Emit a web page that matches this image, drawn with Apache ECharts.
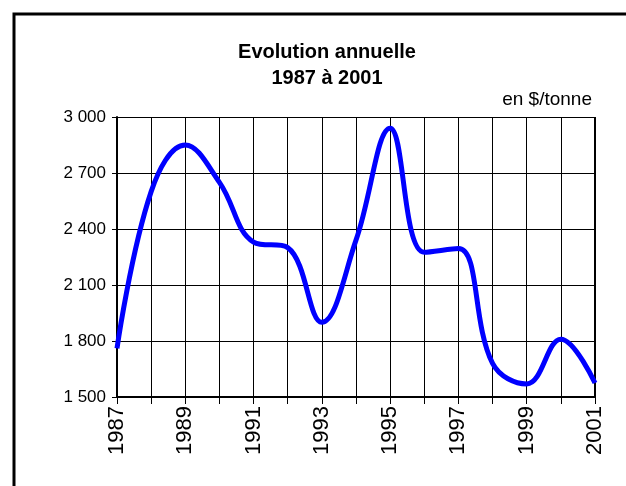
<!DOCTYPE html>
<html><head><meta charset="utf-8">
<script src="https://cdn.jsdelivr.net/npm/echarts@6/dist/echarts.min.js"></script>
<style>html,body{margin:0;padding:0;background:#fff}#c{width:626px;height:486px}</style>
</head><body><div id="c"></div>
<script>
var years = ['1987','1988','1989','1990','1991','1992','1993','1994','1995','1996','1997','1998','1999','2000','2001'];
var prices = [1760, 2600, 2850, 2650, 2330, 2300, 1900, 2340, 2940, 2275, 2295, 1680, 1570, 1810, 1575];
var yTicks = {min: 1500, max: 3000, step: 300};
var titleLines = ['Evolution annuelle', '1987 à 2001'];
var unitLabel = 'en $/tonne';

var chart = echarts.init(document.getElementById('c'), null, {renderer: 'canvas'});
var font = '"Liberation Sans", Arial, sans-serif';
chart.setOption({
  animation: false,
  backgroundColor: '#fff',
  graphic: [
    {type: 'rect', shape: {x: 14, y: 14, width: 620, height: 480}, style: {fill: 'none', stroke: '#000', lineWidth: 3}, silent: true},
    {type: 'text', x: 327, y: 52, style: {text: titleLines[0], fontFamily: font, fontSize: 20, fontWeight: 'bold', fill: '#000', align: 'center', verticalAlign: 'middle'}},
    {type: 'text', x: 327, y: 78, style: {text: titleLines[1], fontFamily: font, fontSize: 20, fontWeight: 'bold', fill: '#000', align: 'center', verticalAlign: 'middle'}},
    {type: 'text', x: 592, y: 100, style: {text: unitLabel, fontFamily: font, fontSize: 19, fill: '#000', align: 'right', verticalAlign: 'middle'}},
    {type: 'line', shape: {x1: 595, y1: 117, x2: 595, y2: 397}, style: {stroke: '#000', lineWidth: 2}, z: 1}
  ],
  grid: {left: 117, right: 31, top: 117, bottom: 89, containLabel: false},
  xAxis: {
    type: 'category', data: years, boundaryGap: false,
    axisLine: {lineStyle: {color: '#000', width: 2}},
    axisTick: {show: true, interval: 0, length: 7, lineStyle: {color: '#000'}},
    axisLabel: {interval: 1, rotate: 90, color: '#000', fontFamily: font, fontSize: 22, margin: 9},
    splitLine: {show: true, interval: 0, lineStyle: {color: '#000', width: 1}}
  },
  yAxis: {
    type: 'value', min: yTicks.min, max: yTicks.max, interval: yTicks.step,
    axisLine: {show: true, lineStyle: {color: '#000', width: 2}},
    axisTick: {show: true, length: 5, lineStyle: {color: '#000'}},
    axisLabel: {color: '#000', fontFamily: font, fontSize: 17, margin: 11,
      formatter: function(v){ var s = String(v); return s.length > 3 ? s.slice(0, s.length-3) + ' ' + s.slice(-3) : s; }},
    splitLine: {show: true, lineStyle: {color: '#000', width: 1}}
  },
  series: [{
    type: 'line', data: prices, smooth: 0.4, symbol: 'none',
    lineStyle: {color: '#0000ff', width: 5}, z: 5
  }]
});
</script></body></html>
